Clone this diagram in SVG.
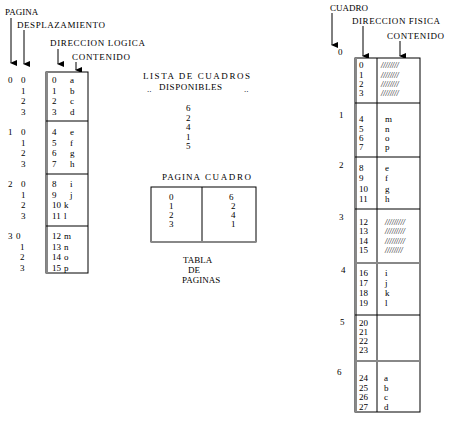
<svg xmlns="http://www.w3.org/2000/svg" width="450" height="422" viewBox="0 0 450 422">
<style>
text{font-family:"Liberation Serif","Times New Roman",serif;font-size:9px;fill:#000}
.box{fill:#fff;stroke:#000;stroke-width:1}
.ln{stroke:#000;stroke-width:1;fill:none}
.gl{stroke:#888;stroke-width:2;fill:none}
.arr{stroke:#000;stroke-width:1;fill:none;marker-end:url(#ah)}
.h{font-style:italic;font-size:8px}
</style>
<defs>
<marker id="ah" markerWidth="6" markerHeight="7" refX="3" refY="6" orient="auto-start-reverse" markerUnits="userSpaceOnUse" viewBox="0 0 6 7">
<path d="M0,0 L6,0 L3,7 Z" fill="#000"/>
</marker>
</defs>

<g id="connectors">
<line class="arr" x1="11" y1="18" x2="11" y2="63"/>
<line class="arr" x1="24" y1="30" x2="24" y2="64"/>
<line class="arr" x1="58" y1="49" x2="58" y2="64"/>
<line class="arr" x1="76" y1="62" x2="76" y2="70"/>
<line class="arr" x1="332" y1="13" x2="332" y2="45"/>
<line class="arr" x1="363" y1="26" x2="363" y2="56"/>
<line class="arr" x1="400" y1="41" x2="400" y2="56"/>
</g>

<g id="left-labels">
<text x="5" y="15">PAGINA</text>
<text x="17" y="28" textLength="88">DESPLAZAMIENTO</text>
<text x="50" y="46" textLength="95">DIRECCION LOGICA</text>
<text x="72" y="60" textLength="58">CONTENIDO</text>
</g>

<g id="logical-memory">
<rect class="box" x="46" y="72" width="42" height="201"/>
<line class="gl" x1="47" y1="72" x2="47" y2="273"/>
<line class="ln" x1="46" y1="121" x2="88" y2="121"/>
<line class="ln" x1="46" y1="174" x2="88" y2="174"/>
<line class="ln" x1="46" y1="226" x2="88" y2="226"/>
<text x="52" y="83">0</text><text x="70" y="83">a</text>
<text x="52" y="93.5">1</text><text x="70" y="93.5">b</text>
<text x="52" y="104">2</text><text x="70" y="104">c</text>
<text x="52" y="114.5">3</text><text x="70" y="114.5">d</text>
<text x="52" y="135">4</text><text x="70" y="135">e</text>
<text x="52" y="145.5">5</text><text x="70" y="145.5">f</text>
<text x="52" y="156">6</text><text x="70" y="156">g</text>
<text x="52" y="166.5">7</text><text x="70" y="166.5">h</text>
<text x="52" y="187">8</text><text x="70" y="187">i</text>
<text x="52" y="197.5">9</text><text x="70" y="197.5">j</text>
<text x="52" y="208">10</text><text x="64" y="208">k</text>
<text x="52" y="218.5">11</text><text x="64" y="218.5">l</text>
<text x="52" y="239">12</text><text x="64" y="239">m</text>
<text x="52" y="249.5">13</text><text x="64" y="249.5">n</text>
<text x="52" y="260">14</text><text x="64" y="260">o</text>
<text x="52" y="270.5">15</text><text x="64" y="270.5">p</text>
</g>

<g id="logical-addresses">
<text x="8" y="83">0</text><text x="21" y="83">0</text>
<text x="21" y="93.5">1</text><text x="21" y="104">2</text><text x="21" y="114.5">3</text>
<text x="8" y="135">1</text><text x="21" y="135">0</text>
<text x="21" y="145.5">1</text><text x="21" y="156">2</text><text x="21" y="166.5">3</text>
<text x="8" y="187">2</text><text x="21" y="187">0</text>
<text x="21" y="197.5">1</text><text x="21" y="208">2</text><text x="21" y="218.5">3</text>
<text x="8" y="239">3</text><text x="16" y="239">0</text>
<text x="20" y="249.5">1</text><text x="20" y="260">2</text><text x="20" y="270.5">3</text>
</g>

<g id="free-frames">
<text x="143" y="79" textLength="107">LISTA DE CUADROS</text>
<text x="159" y="90" textLength="63">DISPONIBLES</text>
<text x="147" y="92" font-size="7">..</text>
<text x="244" y="92" font-size="7">..</text>
<text x="186" y="111">6</text>
<text x="186" y="120.5">2</text>
<text x="186" y="130">4</text>
<text x="186" y="139.5">1</text>
<text x="186" y="149">5</text>
</g>

<g id="page-table">
<text x="162" y="180" textLength="38">PAGINA</text>
<text x="205" y="180" textLength="46">CUADRO</text>
<rect class="box" x="151" y="187" width="105" height="55"/>
<line class="ln" x1="202" y1="187" x2="202" y2="242"/>
<line class="gl" x1="151" y1="242" x2="256" y2="242"/>
<text x="169" y="200">0</text><text x="229" y="200">6</text>
<text x="169" y="209">1</text><text x="231" y="209">2</text>
<text x="169" y="218">2</text><text x="231" y="218">4</text>
<text x="169" y="227">3</text><text x="231" y="227">1</text>
<text x="183" y="263">TABLA</text>
<text x="188" y="273">DE</text>
<text x="182" y="283">PAGINAS</text>
</g>

<g id="right-labels">
<text x="330" y="11">CUADRO</text>
<text x="352" y="24" textLength="88">DIRECCION FISICA</text>
<text x="387" y="39" textLength="57">CONTENIDO</text>
</g>

<g id="physical-memory">
<rect class="box" x="355" y="58" width="65" height="354"/>
<line class="gl" x1="356" y1="58" x2="356" y2="412"/>
<line class="ln" x1="377" y1="58" x2="377" y2="412"/>
<line class="ln" x1="355" y1="103" x2="420" y2="103"/>
<line class="ln" x1="355" y1="157" x2="420" y2="157"/>
<line class="ln" x1="355" y1="209" x2="420" y2="209"/>
<line class="gl" x1="355" y1="263" x2="420" y2="263"/>
<line class="ln" x1="355" y1="315" x2="420" y2="315"/>
<line class="gl" x1="355" y1="361" x2="420" y2="361"/>
<text x="359" y="68">0</text><text class="h" x="381" y="68">////////</text>
<text x="359" y="78">1</text><text class="h" x="381" y="78">////////</text>
<text x="359" y="87">2</text><text class="h" x="381" y="87">////////</text>
<text x="359" y="96">3</text><text class="h" x="381" y="96">////////</text>
<text x="359" y="122">4</text><text x="385" y="122">m</text>
<text x="359" y="132">5</text><text x="385" y="132">n</text>
<text x="359" y="141">6</text><text x="385" y="141">o</text>
<text x="359" y="150">7</text><text x="385" y="150">p</text>
<text x="359" y="171">8</text><text x="385" y="171">e</text>
<text x="359" y="181">9</text><text x="385" y="181">f</text>
<text x="359" y="192">10</text><text x="385" y="192">g</text>
<text x="359" y="202">11</text><text x="385" y="202">h</text>
<text x="359" y="225">12</text><text class="h" x="385" y="225">/////////</text>
<text x="359" y="234">13</text><text class="h" x="385" y="234">/////////</text>
<text x="359" y="244">14</text><text class="h" x="385" y="244">/////////</text>
<text x="359" y="253">15</text><text class="h" x="385" y="253">////////</text>
<text x="359" y="276">16</text><text x="385" y="276">i</text>
<text x="359" y="286">17</text><text x="385" y="286">j</text>
<text x="359" y="296">18</text><text x="385" y="296">k</text>
<text x="359" y="306">19</text><text x="385" y="306">l</text>
<text x="359" y="326">20</text>
<text x="359" y="335">21</text>
<text x="359" y="344">22</text>
<text x="359" y="353">23</text>
<text x="359" y="381">24</text><text x="384" y="381">a</text>
<text x="359" y="391">25</text><text x="384" y="391">b</text>
<text x="359" y="400">26</text><text x="384" y="400">c</text>
<text x="359" y="410">27</text><text x="384" y="410">d</text>
</g>

<g id="frame-numbers">
<text x="338" y="55">0</text>
<text x="339" y="118">1</text>
<text x="339" y="168">2</text>
<text x="339" y="220">3</text>
<text x="341" y="273">4</text>
<text x="340" y="325">5</text>
<text x="337" y="375">6</text>
</g>
</svg>
